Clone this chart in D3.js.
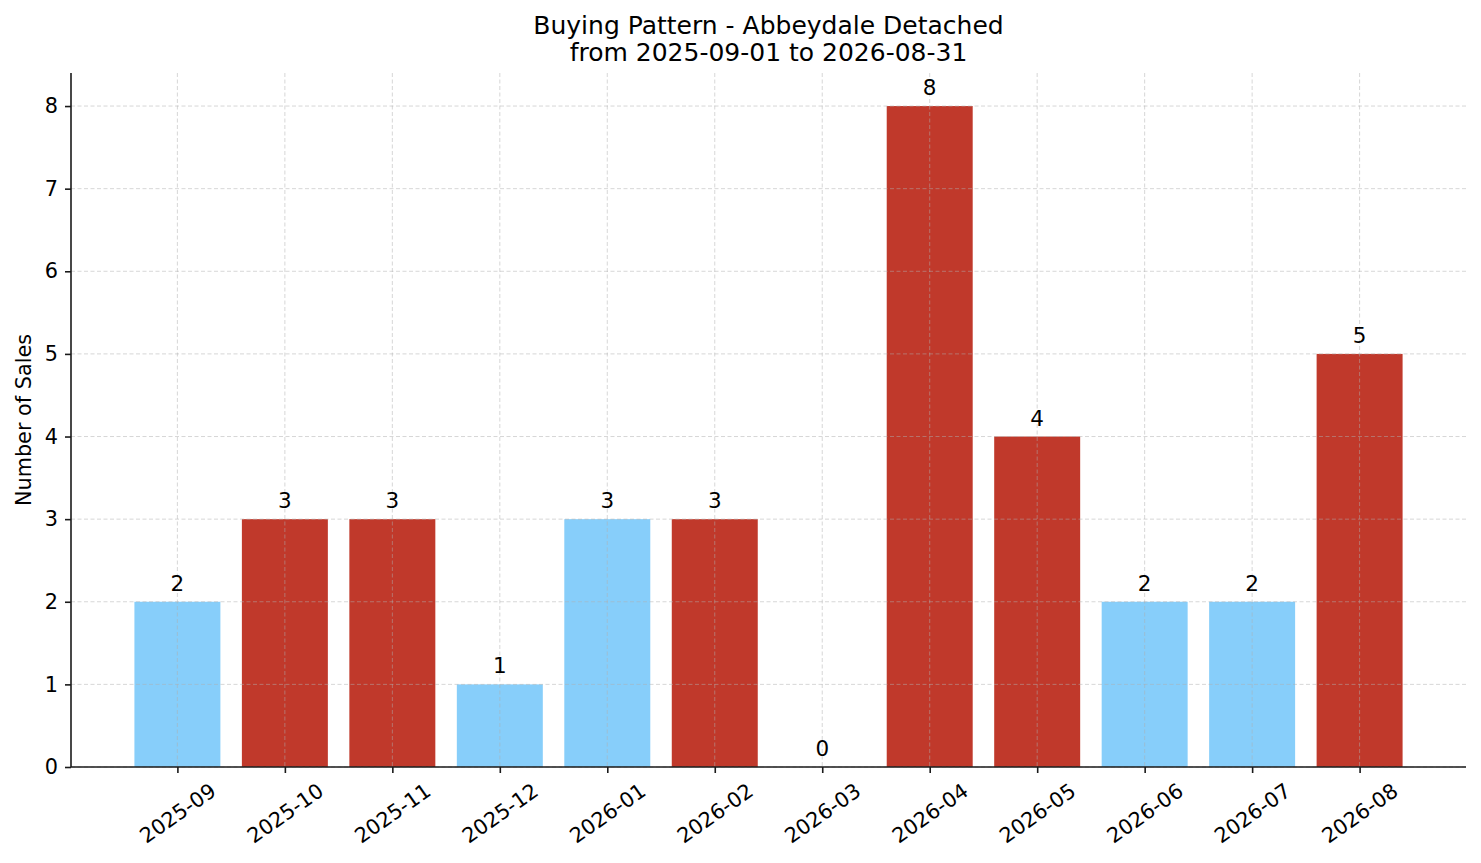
<!DOCTYPE html>
<html>
<head>
<meta charset="utf-8">
<script src="https://cdn.jsdelivr.net/npm/d3@7"></script>
<style>
  body { margin: 0; background: #fff; }
  text { font-family: "DejaVu Sans", sans-serif; fill: #000; }
</style>
</head>
<body>
<script>
// Data
const months = ["2025-09", "2025-10", "2025-11", "2025-12", "2026-01", "2026-02",
                "2026-03", "2026-04", "2026-05", "2026-06", "2026-07", "2026-08"];
const sales = [2, 3, 3, 1, 3, 3, 0, 8, 4, 2, 2, 5];
// months drawn in red (busy months)
const busy = [false, true, true, false, false, true, false, true, true, false, false, true];
const yTicks = [0, 1, 2, 3, 4, 5, 6, 7, 8];

const titleLines = ["Buying Pattern - Abbeydale Detached", "from 2025-09-01 to 2026-08-31"];
const yLabel = "Number of Sales";

// Size of the page and the plot box
const w = 1481;
const h = 863;
const plotLeft = 71, plotRight = 1466, plotTop = 73, plotBottom = 767;

const blue = "#87CEFA";
const red = "#C0392B";
const fontSize = 20.8;

const svg = d3.select("body").append("svg").attr("width", w).attr("height", h);

// x: bars at integer positions, matplotlib style margins
const xScale = d3.scaleLinear().domain([-0.99, months.length - 1 + 0.99]).range([plotLeft, plotRight]);
const yScale = d3.scaleLinear().domain([0, d3.max(sales) * 1.05]).range([plotBottom, plotTop]);
const barW = xScale(0.8) - xScale(0);

// bars
svg.append("g")
  .selectAll("rect")
  .data(sales)
  .enter()
  .append("rect")
  .attr("x", (d, i) => xScale(i) - barW / 2)
  .attr("y", d => yScale(d))
  .attr("width", barW)
  .attr("height", d => plotBottom - yScale(d))
  .attr("fill", (d, i) => busy[i] ? red : blue);

// grid goes over the bars
const grid = svg.append("g")
  .attr("stroke", "#b0b0b0")
  .attr("stroke-opacity", 0.5)
  .attr("stroke-width", 1)
  .attr("stroke-dasharray", "4,2.5");

grid.selectAll("line.h")
  .data(yTicks)
  .enter()
  .append("line")
  .attr("x1", plotLeft).attr("x2", plotRight)
  .attr("y1", d => yScale(d)).attr("y2", d => yScale(d));

grid.selectAll("line.v")
  .data(months)
  .enter()
  .append("line")
  .attr("x1", (d, i) => xScale(i)).attr("x2", (d, i) => xScale(i))
  .attr("y1", plotTop).attr("y2", plotBottom);

// value labels
svg.append("g")
  .selectAll("text")
  .data(sales)
  .enter()
  .append("text")
  .attr("x", (d, i) => xScale(i))
  .attr("y", d => yScale(d) - 11)
  .attr("text-anchor", "middle")
  .style("font-size", "21.5px")
  .text(d => d);

// y axis
const yAxis = d3.axisLeft(yScale).tickValues(yTicks).tickSize(6).tickPadding(7);
const gy = svg.append("g")
  .attr("transform", "translate(" + plotLeft + ",0)")
  .call(yAxis);
gy.select(".domain").attr("d", "M0," + plotBottom + "V" + plotTop);

// x axis
const xAxis = d3.axisBottom(xScale)
  .tickValues(d3.range(months.length))
  .tickSize(6)
  .tickFormat(i => months[i]);
const gx = svg.append("g")
  .attr("transform", "translate(0," + plotBottom + ")")
  .call(xAxis);
gx.select(".domain").attr("d", "M" + plotLeft + ",0H" + plotRight);

svg.selectAll(".domain").attr("stroke", "#1a1a1a").attr("stroke-width", 1.6);
svg.selectAll(".tick line").attr("stroke", "#1a1a1a").attr("stroke-width", 1.6);
svg.selectAll(".tick text")
  .style("font-size", fontSize + "px")
  .attr("fill", "#000")
  .style("font-family", "DejaVu Sans");

// rotate the x tick labels so their box sits centred under the tick
const angle = 35 * Math.PI / 180;
gx.selectAll(".tick text").each(function () {
  const t = d3.select(this);
  const tw = this.getComputedTextLength();
  const th = fontSize * 0.76;
  const boxH = tw * Math.sin(angle) + th * Math.cos(angle);
  const cy = 15 + boxH / 2;
  t.attr("y", 0).attr("dy", null)
    .attr("dominant-baseline", "central")
    .attr("text-anchor", "middle")
    .attr("transform", "translate(0," + cy + ") rotate(-35)");
});

// title
svg.append("text")
  .attr("text-anchor", "middle")
  .attr("x", (plotLeft + plotRight) / 2)
  .style("font-size", "25px")
  .selectAll("tspan")
  .data(titleLines)
  .enter()
  .append("tspan")
  .attr("x", (plotLeft + plotRight) / 2)
  .attr("y", (d, i) => 34 + i * 27)
  .text(d => d);

// y label
svg.append("text")
  .attr("text-anchor", "middle")
  .attr("transform", "translate(31," + (plotTop + plotBottom) / 2 + ") rotate(-90)")
  .style("font-size", fontSize + "px")
  .text(yLabel);
</script>
</body>
</html>
